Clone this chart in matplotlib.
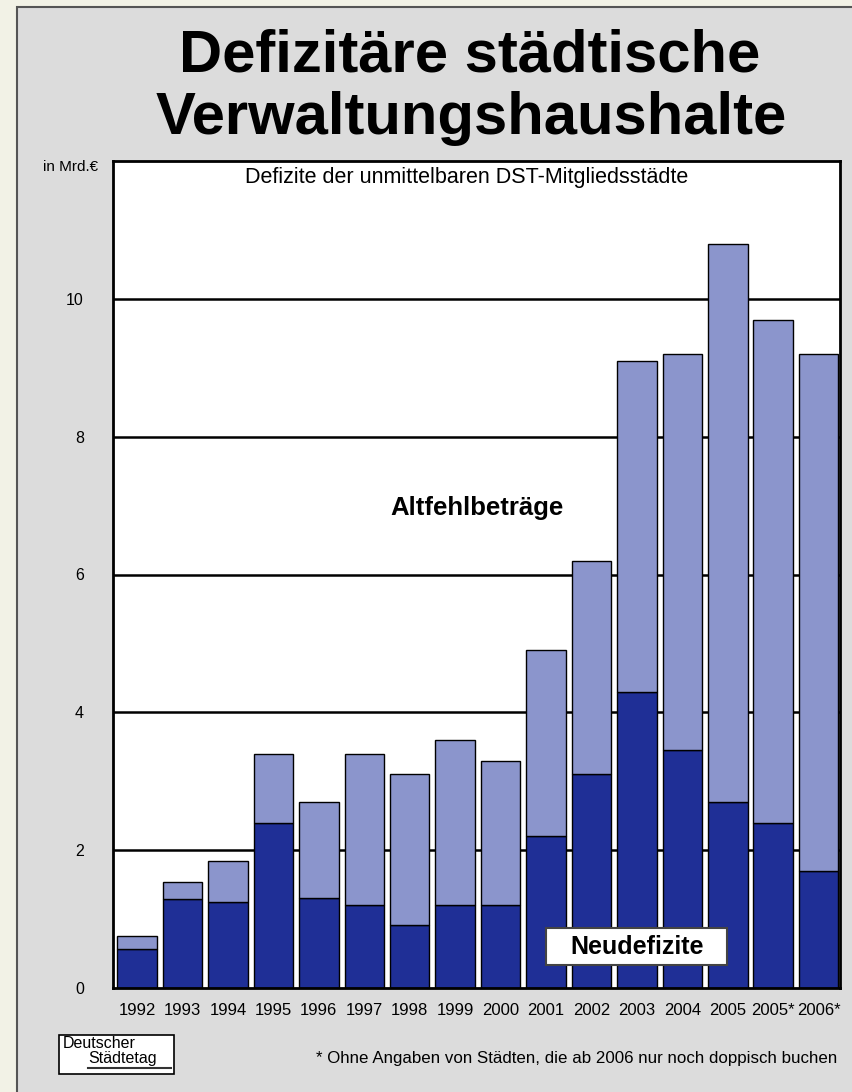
import matplotlib.pyplot as plt
from matplotlib.patches import Rectangle
from matplotlib.lines import Line2D
import numpy as np

years = ["1992", "1993", "1994", "1995", "1996", "1997", "1998", "1999",
         "2000", "2001", "2002", "2003", "2004", "2005", "2005*", "2006*"]
# total deficit (Neudefizite + Altfehlbetraege), in Mrd. EUR
total = [0.75, 1.54, 1.84, 3.4, 2.7, 3.4, 3.1, 3.6, 3.3, 4.9, 6.2, 9.1, 9.2, 10.8, 9.7, 9.2]
neu = [0.57, 1.29, 1.25, 2.4, 1.3, 1.2, 0.91, 1.2, 1.2, 2.2, 3.1, 4.3, 3.45, 2.7, 2.4, 1.7]
alt = [t - n for t, n in zip(total, neu)]
yticks = [0, 2, 4, 6, 8, 10]

dark = "#1f2f96"
light = "#8b95cc"
fam = ["Liberation Sans", "DejaVu Sans"]

W, H = 853, 1092
fig = plt.figure(figsize=(W / 100, H / 100), dpi=100)
fig.patch.set_facecolor("#f2f2e6")

def fx(px):
    return px / W

def fy(py):
    return 1 - py / H

# grey panel behind everything
panel = Rectangle((fx(17), -0.01), 1.0, fy(7) + 0.01, transform=fig.transFigure,
                  facecolor="#dcdcdc", edgecolor="#555555", lw=1.5, zorder=-10)
fig.patches.append(panel)

fig.text(fx(470), fy(72), "Defizitäre städtische", ha="center", va="baseline",
         fontsize=43, fontweight="bold", family=fam)
fig.text(fx(471), fy(134), "Verwaltungshaushalte", ha="center", va="baseline",
         fontsize=43, fontweight="bold", family=fam)

ax = fig.add_axes([fx(113), fy(988), fx(840 - 113), (988 - 161) / H])
ax.set_zorder(2)
ax.set_facecolor("white")
x = np.arange(len(years))
ax.bar(x, neu, width=0.87, color=dark, edgecolor="black", lw=1, zorder=3)
ax.bar(x, alt, bottom=neu, width=0.87, color=light, edgecolor="black", lw=1, zorder=3)

for v in yticks[1:]:
    ax.axhline(v, color="black", lw=1.8, zorder=1)

ax.set_xlim(-0.53, 15.47)
ax.set_ylim(0, 12)
ax.set_yticks(yticks)
ax.set_yticklabels([str(v) for v in yticks], family=fam, fontsize=11.5)
ax.set_xticks(x)
ax.set_xticklabels(years, family=fam, fontsize=12)
ax.tick_params(axis="both", length=0)
ax.tick_params(axis="y", pad=21)
ax.tick_params(axis="x", pad=11)
for s in ax.spines.values():
    s.set_linewidth(2)
    s.set_zorder(4)

fig.text(fx(98), fy(167), "in Mrd.€", ha="right", va="center",
         fontsize=11, family=fam)
fig.text(fx(466.5), fy(177), "Defizite der unmittelbaren DST-Mitgliedsstädte",
         ha="center", va="center", fontsize=15.5, family=fam, zorder=5)
ax.text(7.47, 6.97, "Altfehlbeträge", ha="center", va="center", fontsize=18.5,
        fontweight="bold", family=fam, zorder=5)

# label box for Neudefizite
ax.add_patch(Rectangle((9.0, 0.334), 3.98, 0.537, facecolor="white",
                       edgecolor="#444444", lw=1.5, zorder=5))
ax.text(11.0, 0.6, "Neudefizite", ha="center", va="center", fontsize=18,
        fontweight="bold", family=fam, zorder=6)

# logo box
logo = Rectangle((fx(59), fy(1074)), fx(174 - 59), (1074 - 1035) / H,
                 transform=fig.transFigure, facecolor="white", edgecolor="black", lw=1.2)
fig.patches.append(logo)
fig.text(fx(63), fy(1044), "Deutscher", fontsize=11.5, family=fam,
         va="center", ha="left")
fig.text(fx(88), fy(1058), "Städtetag", fontsize=11.5, family=fam,
         va="center", ha="left")
fig.lines.append(Line2D([fx(88), fx(171)], [fy(1068), fy(1068)], transform=fig.transFigure,
                        color="#333333", lw=1.5))

fig.text(fx(577), fy(1058),
         "* Ohne Angaben von Städten, die ab 2006 nur noch doppisch buchen",
         ha="center", va="center", fontsize=12.2, family=fam)

fig.savefig("out.png", dpi=100, facecolor=fig.get_facecolor())
